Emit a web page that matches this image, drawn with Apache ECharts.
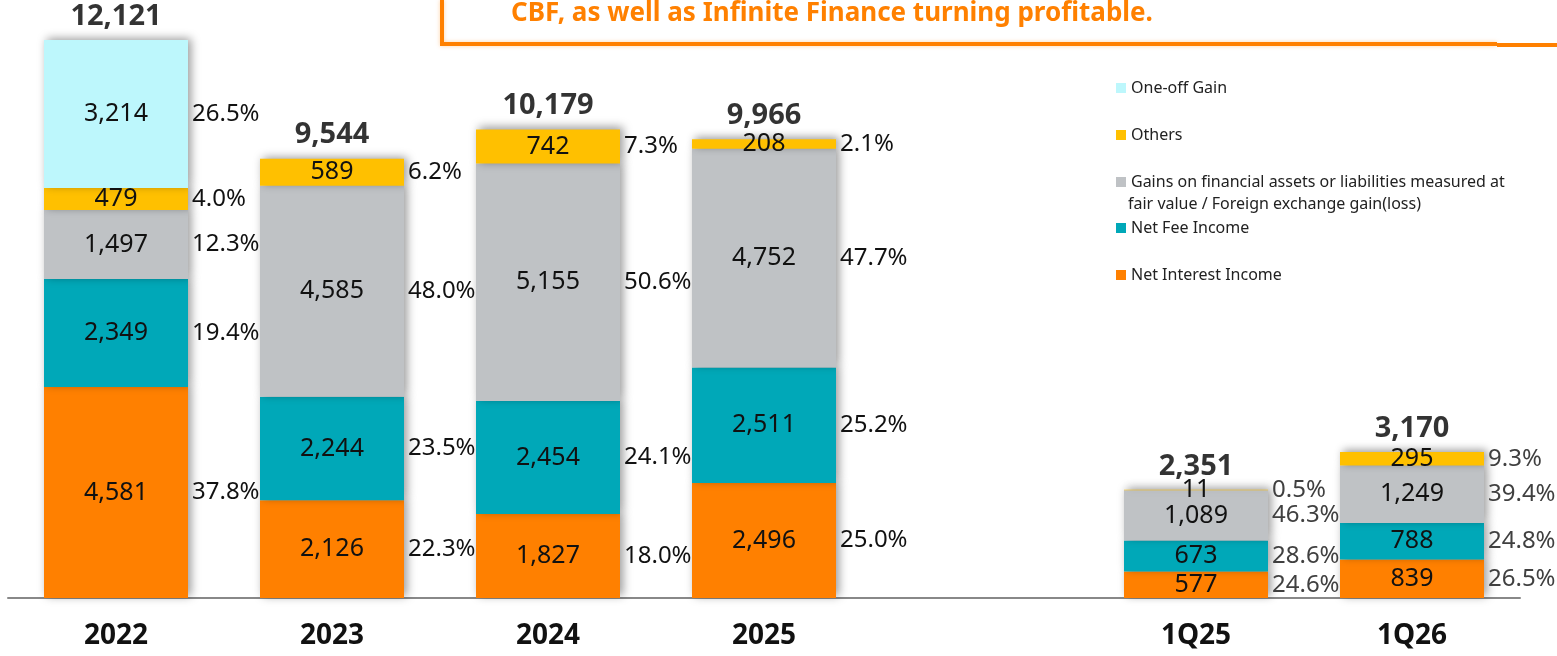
<!DOCTYPE html>
<html>
<head>
<meta charset="utf-8">
<script src="https://cdn.jsdelivr.net/npm/echarts@6/dist/echarts.min.js"></script>
<style>
  html, body { margin: 0; padding: 0; background: #fff; }
  #main { width: 1557px; height: 656px; }
</style>
</head>
<body>
<div id="main"></div>
<script>
// categories (blank slot separates the annual and quarterly groups)
const categories = ['2022', '2023', '2024', '2025', '', '1Q25', '1Q26'];

// segment values
const netInterest = [4581, 2126, 1827, 2496, null, 577, 839];
const netFee = [2349, 2244, 2454, 2511, null, 673, 788];
const fairValueGains = [1497, 4585, 5155, 4752, null, 1089, 1249];
const others = [479, 589, 742, 208, null, 11, 295];
const oneOffGain = [3214, null, null, null, null, null, null];
const totals = [12121, 9544, 10179, 9966, null, 2351, 3170];

// share labels as printed
const netInterestPct = ['37.8', '22.3', '18.0', '25.0', null, '24.6', '26.5'];
const netFeePct = ['19.4', '23.5', '24.1', '25.2', null, '28.6', '24.8'];
const fairValuePct = ['12.3', '48.0', '50.6', '47.7', null, '46.3', '39.4'];
const othersPct = ['4.0', '6.2', '7.3', '2.1', null, '0.5', '9.3'];
const oneOffPct = ['26.5', null, null, null, null, null, null];

const names = [
  'Net Interest Income',
  'Net Fee Income',
  'Gains on financial assets or liabilities measured at fair value / Foreign exchange gain(loss)',
  'Others',
  'One-off Gain'
];
const colors = ['#FF8000', '#00A8B8', '#BFC2C5', '#FFC000', '#BDF7FC'];
const values = [netInterest, netFee, fairValueGains, others, oneOffGain];
const pcts = [netInterestPct, netFeePct, fairValuePct, othersPct, oneOffPct];

const FONT = '"Noto Sans", "Open Sans", sans-serif';

function comma(v) {
  return String(v).replace(/\B(?=(\d{3})+(?!\d))/g, ',');
}

let series = [];
for (let i = 0; i < names.length; i++) {
  series.push({
    name: names[i],
    type: 'bar',
    stack: 'v',
    xAxisIndex: 0,
    barWidth: 144,
    data: values[i],
    itemStyle: {
      color: colors[i],
      shadowColor: 'rgba(0,0,0,0.4)',
      shadowBlur: 9,
      shadowOffsetX: 3,
      shadowOffsetY: -2
    },
    label: {
      show: true,
      position: 'inside',
      color: '#111',
      fontSize: 25,
      fontFamily: FONT,
      formatter: (p) => comma(p.value)
    },
    emphasis: { disabled: true },
    z: 2
  });
}
// invisible twin stack carrying the percentage labels
for (let i = 0; i < names.length; i++) {
  series.push({
    name: 'pct' + i,
    type: 'bar',
    stack: 'p',
    xAxisIndex: 1,
    barWidth: 144,
    data: values[i].map((v, idx) => v == null ? null : {
      value: v,
      label: { color: idx >= 5 ? '#404040' : '#111' } // quarterly shares are greyer
    }),
    itemStyle: { color: 'rgba(0,0,0,0)' },
    label: {
      show: true,
      position: 'right',
      distance: 4,
      fontSize: 24,
      fontFamily: FONT,
      formatter: (p) => pcts[i][p.dataIndex] ? pcts[i][p.dataIndex] + '%' : ''
    },
    emphasis: { disabled: true },
    silent: true,
    z: 3
  });
}
// totals above the bars
series.push({
  name: 'total',
  type: 'scatter',
  xAxisIndex: 0,
  data: totals,
  symbolSize: 0,
  label: {
    show: true,
    position: 'top',
    distance: 9,
    color: '#000',
    fontSize: 29,
    fontWeight: 'bold',
    fontFamily: FONT,
    formatter: (p) => comma(p.value)
  },
  silent: true,
  z: 4
});

function legendAt(idx, top, short) {
  return {
    data: [names[idx]],
    left: 1111,
    top: top,
    icon: 'rect',
    itemWidth: 10,
    itemHeight: 10,
    itemGap: 0,
    selectedMode: false,
    formatter: () => short,
    textStyle: { fontSize: 16, color: '#222', fontFamily: FONT }
  };
}

let myChart = echarts.init(document.getElementById('main'));
let option = {
  backgroundColor: '#fff',
  animation: false,
  grid: { left: 8, right: 37, top: 40, bottom: 58 },
  legend: [
    legendAt(4, 75, 'One-off Gain'),
    legendAt(3, 122, 'Others'),
    legendAt(2, 169, 'Gains on financial assets or liabilities measured at'),
    legendAt(1, 215, 'Net Fee Income'),
    legendAt(0, 262, 'Net Interest Income')
  ],
  graphic: [
    {
      type: 'polyline',
      shape: { points: [[442, 0], [442, 44], [1497, 44]] },
      style: { stroke: '#FF8000', lineWidth: 4, fill: null, shadowColor: 'rgba(255,128,0,0.35)', shadowBlur: 4 }
    },
    {
      type: 'line',
      shape: { x1: 1497, y1: 45, x2: 1557, y2: 45 },
      style: { stroke: '#FF8000', lineWidth: 4 }
    },
    {
      type: 'text',
      left: 511,
      top: 1,
      style: {
        text: 'CBF, as well as Infinite Finance turning profitable.',
        fill: '#FF8000',
        font: 'bold 26px ' + FONT
      }
    },
    {
      type: 'text',
      left: 1128,
      top: 196,
      style: {
        text: 'fair value / Foreign exchange gain(loss)',
        fill: '#222',
        font: '16px ' + FONT
      }
    }
  ],
  xAxis: [
    {
      type: 'category',
      data: categories,
      axisLine: { lineStyle: { color: '#888', width: 2 } },
      axisTick: { show: false },
      axisLabel: {
        color: '#111',
        fontSize: 28,
        fontWeight: 'bold',
        fontFamily: FONT,
        margin: 24
      }
    },
    {
      type: 'category',
      data: categories,
      show: false
    }
  ],
  yAxis: {
    type: 'value',
    min: 0,
    max: 12121,
    show: false,
    splitLine: { show: false }
  },
  series: series
};
myChart.setOption(option);
</script>
</body>
</html>
